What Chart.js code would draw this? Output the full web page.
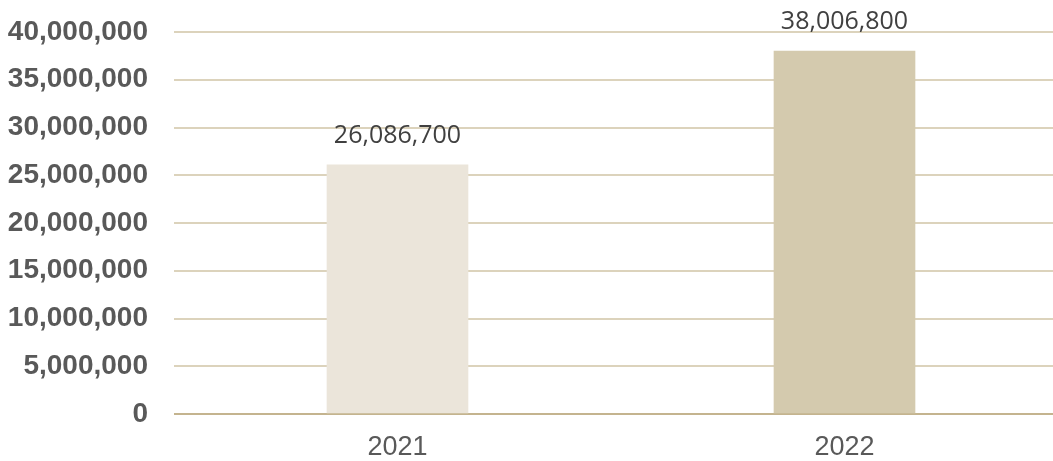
<!DOCTYPE html>
<html>
<head>
<meta charset="utf-8">
<script src="https://cdn.jsdelivr.net/npm/chart.js@4"></script>
<style>
  html, body { margin: 0; padding: 0; background: #fff; overflow: hidden; }
  #wrap { width: 1068px; height: 461px; }
</style>
</head>
<body>
<div id="wrap"><canvas id="yearChart"></canvas></div>
<script>
// values
const years = ['2021', '2022'];
const totals = [26086700, 38006800];
const barColors = ['#ebe5da', '#d4caae'];

const yMax = 40000000;
const yStep = 5000000;

// draws the number above each bar
const valueLabels = {
  id: 'valueLabels',
  afterDatasetsDraw(chart) {
    const ctx = chart.ctx;
    const meta = chart.getDatasetMeta(0);
    ctx.save();
    ctx.font = '25px "Open Sans", sans-serif';
    ctx.fillStyle = '#404040';
    ctx.textAlign = 'center';
    ctx.textBaseline = 'alphabetic';
    meta.data.forEach((bar, i) => {
      ctx.fillText(totals[i].toLocaleString('en-US'), bar.x, bar.y - 22);
    });
    ctx.restore();
  }
};

const data = {
  labels: years,
  datasets: [
    {
      data: totals,
      backgroundColor: barColors,
      borderWidth: 0,
      barThickness: 141
    }
  ]
};

const options = {
  responsive: true,
  maintainAspectRatio: false,
  animation: false,
  layout: { padding: { top: 32, left: 0, right: 0, bottom: 0 } },
  plugins: {
    legend: { display: false },
    tooltip: { enabled: false }
  },
  scales: {
    x: {
      grid: { display: false },
      border: { display: false },
      ticks: {
        color: '#595959',
        padding: 12,
        font: { family: '"Liberation Sans", Arial, sans-serif', size: 27, lineHeight: 1 }
      },
      afterFit(scale) { scale.height = 47; }
    },
    y: {
      min: 0,
      max: yMax,
      border: { display: false },
      grid: {
        drawTicks: false,
        lineWidth: 2,
        color: (c) => c.tick && c.tick.value === 0 ? '#c4b48f' : '#dcd3bc'
      },
      ticks: {
        stepSize: yStep,
        padding: 26,
        color: '#595959',
        font: { family: '"Liberation Sans", Arial, sans-serif', size: 28, weight: 'bold' },
        callback: (v) => v.toLocaleString('en-US')
      },
      afterFit(scale) {
        scale.width = 174;
        scale.paddingTop = 0;
        scale.paddingBottom = 0;
      }
    }
  }
};

//config
const config = {
  type: 'bar',
  data,
  options,
  plugins: [valueLabels]
};

const chart = new Chart(document.getElementById('yearChart'), config);
</script>
</body>
</html>
